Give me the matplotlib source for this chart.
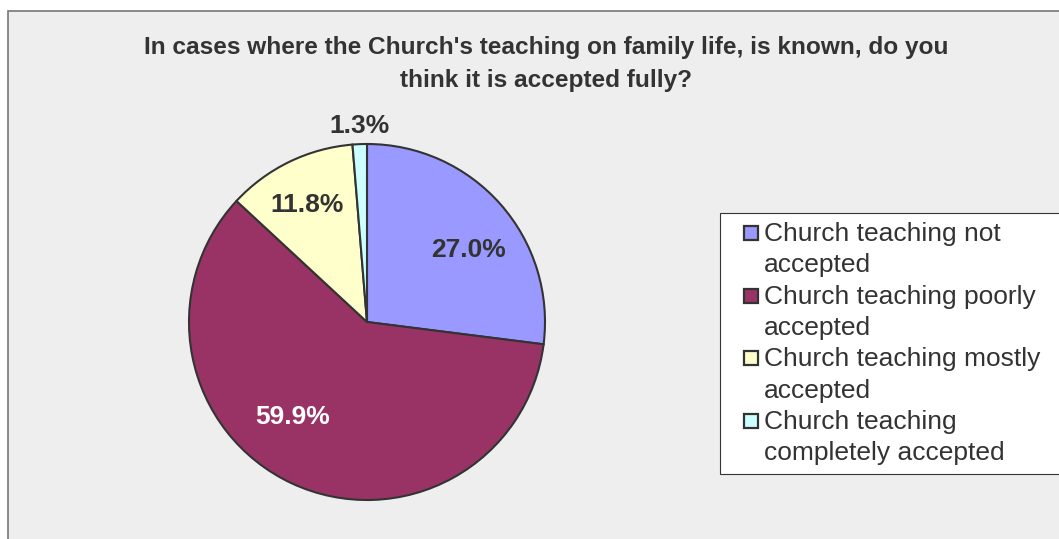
import matplotlib.pyplot as plt
import numpy as np
from matplotlib.patches import Rectangle
from matplotlib.legend_handler import HandlerPatch

plt.rcParams['font.family'] = ['Liberation Sans', 'DejaVu Sans']

labels = ["Church teaching not\naccepted",
          "Church teaching poorly\naccepted",
          "Church teaching mostly\naccepted",
          "Church teaching\ncompletely accepted"]
shares = [27.0, 59.9, 11.8, 1.3]
colors = ['#9999FF', '#993366', '#FFFFCC', '#CCFFFF']
pct_colors = ['#333333', 'white', '#333333', '#333333']
# where each percentage sits: radius and angular shift from the wedge middle
pct_dist = [0.70, 0.68, 0.74, 1.10]
pct_shift = [-6, -13, 1, 0]

W, H = 1059, 539
fig = plt.figure(figsize=(W / 100, H / 100), dpi=100, facecolor='white')

# grey chart area with its border
fig.patches.append(Rectangle((8 / W, -0.05), 1.1, (H - 11) / H + 0.05,
                             transform=fig.transFigure, facecolor='#EEEEEE',
                             edgecolor='#777777', linewidth=1.2, zorder=-5))

fig.text(546 / W, 1 - 64 / H,
         "In cases where the Church's teaching on family life, is known, do you\nthink it is accepted fully?",
         ha='center', va='center', fontsize=17.6, fontweight='bold',
         color='#333333', linespacing=1.55)

cx, cy, r = 367, 322, 178
ax = fig.add_axes([(cx - r) / W, (H - cy - r) / H, 2 * r / W, 2 * r / H])
wedges, texts, autotexts = ax.pie(
    shares, colors=colors, startangle=90, counterclock=False,
    autopct='%1.1f%%', pctdistance=0.7,
    wedgeprops=dict(edgecolor='#333333', linewidth=1.5),
    textprops=dict(fontsize=19, fontweight='bold', color='#333333'))
ax.set_xlim(-1, 1)
ax.set_ylim(-1, 1)
ax.set_aspect('equal')

for w, t, c, d, s in zip(wedges, autotexts, pct_colors, pct_dist, pct_shift):
    ang = np.deg2rad((w.theta1 + w.theta2) / 2 + s)
    t.set_position((d * np.cos(ang), d * np.sin(ang)))
    t.set_color(c)


def square_key(legend, orig_handle, xdescent, ydescent, width, height, fontsize):
    # small square at the right end of the handle box, level with the first line
    s = 0.53 * fontsize
    return Rectangle((-xdescent + width - s,
                      -ydescent + (height - s) / 2 + 0.64 * fontsize), s, s)


leg = fig.legend(wedges, labels, loc='upper left',
                 bbox_to_anchor=(720 / W, 1 - 213 / H, 0.4, 0.0001),
                 mode='expand', fontsize=19, labelcolor='#333333',
                 handlelength=1.1, handleheight=0.6, handletextpad=0.2,
                 labelspacing=0.28, borderpad=0.35, fancybox=False,
                 frameon=True, framealpha=1, borderaxespad=0,
                 handler_map={w: HandlerPatch(patch_func=square_key) for w in wedges})
leg.get_frame().set_edgecolor('#333333')
leg.get_frame().set_linewidth(0.8)
for h in leg.legend_handles:
    h.set_edgecolor('#333333')
    h.set_linewidth(1.6)
for t in leg.get_texts():
    t.set_linespacing(1.38)

fig.savefig('out.png', dpi=100, facecolor='white')
